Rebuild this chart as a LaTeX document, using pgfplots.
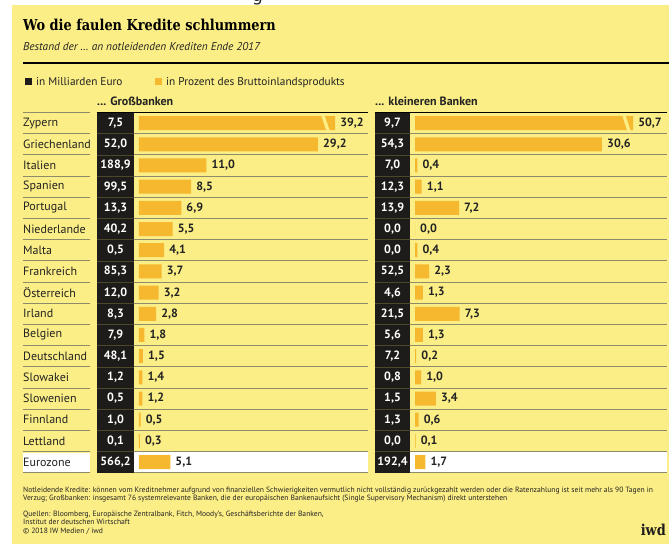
\documentclass[border=0pt]{standalone}
\usepackage{pgfplots}
\pgfplotsset{compat=1.18}
\usepackage{pgfplotstable}
\usepackage{fontspec}
\setmainfont{PT Sans}
\newfontfamily\titlefont[FakeStretch=0.86]{DejaVu Serif}
\newfontfamily\headfont{DejaVu Sans}
\definecolor{bg}{HTML}{FBEE86}
\definecolor{barc}{HTML}{F6B82F}
\definecolor{boxc}{HTML}{1E1C1A}
\definecolor{sep}{HTML}{8E8B6A}
\definecolor{txt}{HTML}{222222}

% row, name, Mrd Euro, % BIP, drawn length of the bar
\pgfplotstableread[col sep=comma]{
row,name,bn,pct,len
0,Zypern,7.5,39.2,32.0
1,Griechenland,52.0,29.2,29.2
2,Italien,188.9,11.0,11.0
3,Spanien,99.5,8.5,8.5
4,Portugal,13.3,6.9,6.9
5,Niederlande,40.2,5.5,5.5
6,Malta,0.5,4.1,4.1
7,Frankreich,85.3,3.7,3.7
8,Österreich,12.0,3.2,3.2
9,Irland,8.3,2.8,2.8
10,Belgien,7.9,1.8,0.87
11,Deutschland,48.1,1.5,0.65
12,Slowakei,1.2,1.4,0.55
13,Slowenien,0.5,1.2,0.55
14,Finnland,1.0,0.5,0.27
15,Lettland,0.1,0.3,0.16
16,Eurozone,566.2,5.1,5.1
}\gross

\pgfplotstableread[col sep=comma]{
row,name,bn,pct,len
0,Zypern,9.7,50.7,35.7
1,Griechenland,54.3,30.6,30.6
2,Italien,7.0,0.4,0.4
3,Spanien,12.3,1.1,1.1
4,Portugal,13.9,7.2,7.2
5,Niederlande,0.0,0.0,0.0
6,Malta,0.0,0.4,0.4
7,Frankreich,52.5,2.3,2.3
8,Österreich,4.6,1.3,1.3
9,Irland,21.5,7.3,7.3
10,Belgien,5.6,1.3,1.3
11,Deutschland,7.2,0.2,0.2
12,Slowakei,0.8,1.0,1.0
13,Slowenien,1.5,3.4,3.4
14,Finnland,1.3,0.6,0.6
15,Lettland,0.0,0.1,0.1
16,Eurozone,192.4,1.7,1.7
}\klein

\pgfplotsset{
  panel/.style={
    scale only axis, height=360.2pt, anchor=north west,
    ymin=-0.5, ymax=16.5, y dir=reverse,
    axis line style={draw=none}, tick style={draw=none},
    xtick=\empty, clip=false,
  },
  numfmt/.style={nodes near coords={\pgfmathprintnumber[fixed,fixed zerofill,precision=1,use comma,assume math mode=true]{\pgfplotspointmeta}}},
}

\begin{document}
\begin{tikzpicture}[x=1pt,y=1pt]
\useasboundingbox (0,0) rectangle (669,-544);
\fill[white] (0,0) rectangle (669,-544);
\fill[bg] (12,-5) rectangle (669,-544);
% cut-off letter of the page heading above the graphic
\begin{scope}
\clip (0,0) rectangle (669,-12);
\node[anchor=base west, inner sep=0, text=black!85] at (252,-1.5) {\headfont\fontsize{17}{20}\selectfont g};
\end{scope}

\node[anchor=base west, inner sep=0, text=black] at (23,-30) {\titlefont\bfseries\fontsize{15}{18}\selectfont Wo die faulen Kredite schlummern};
\node[anchor=base west, inner sep=0, text=txt] at (23,-50) {\itshape\fontsize{11.3}{13}\selectfont Bestand der … an notleidenden Krediten Ende 2017};
\draw[black, line width=1.8pt] (23,-63) -- (669,-63);

\fill[boxc] (25,-77.5) rectangle (32,-84.5);
\node[anchor=base west, inner sep=0, text=txt] at (36,-85) {\fontsize{11.3}{13}\selectfont in Milliarden Euro};
\fill[barc] (155,-77.5) rectangle (162,-84.5);
\node[anchor=base west, inner sep=0, text=txt] at (166,-85) {\fontsize{11.3}{13}\selectfont in Prozent des Bruttoinlandsprodukts};

\node[anchor=base west, inner sep=0, text=txt] at (97,-105) {\bfseries\fontsize{12}{14}\selectfont ... Großbanken};
\node[anchor=base west, inner sep=0, text=txt] at (375,-105) {\bfseries\fontsize{12}{14}\selectfont ... kleineren Banken};

% white band behind "Eurozone"
\fill[white] (23,-452.6) rectangle (90,-473.4);

% ---------- left panel
\begin{axis}[panel, at={(97pt,-112.5pt)}, width=271pt,
  xmin=-6.85, xmax=37.36,
  ytick={0,...,16}, yticklabels from table={\gross}{name},
  yticklabel style={anchor=west, inner sep=0pt, xshift=-74pt, text=txt, font=\fontsize{12}{14}\selectfont},
]
\fill[white] (axis cs:-0.82,15.5) rectangle (axis cs:37.36,16.5);
\pgfplotsinvokeforeach{0.5,1.5,...,16.5}{
  \draw[sep, line width=0.8pt] (axis cs:-0.82,#1) -- (axis cs:37.36,#1);
}
\pgfplotsinvokeforeach{-0.5,0.5,...,16.5}{
  \draw[sep, line width=0.8pt] ([xshift=-74pt]axis cs:-6.85,#1) -- ([xshift=-7pt]axis cs:-6.85,#1);
}
\fill[boxc] (axis cs:-6.85,-0.5) rectangle (axis cs:-0.82,16.5);
\pgfplotsinvokeforeach{0.5,1.5,...,15.5}{
  \draw[black!70!bg, line width=0.4pt] (axis cs:-6.85,#1) -- (axis cs:-0.82,#1);
}
\draw[black, line width=1.5pt] (axis cs:-6.85,-0.5) -- (axis cs:37.36,-0.5);
\addplot[xbar, bar width=14pt, fill=barc, draw=none, point meta=\thisrow{pct}, numfmt,
  nodes near coords style={anchor=west, inner sep=0pt, xshift=5pt, text=txt, font=\bfseries\fontsize{12}{14}\selectfont}]
  table[x=len, y=row]{\gross};
\addplot[draw=none, mark=none, point meta=\thisrow{bn}, numfmt,
  nodes near coords style={anchor=center, inner sep=0pt, text=white, font=\bfseries\fontsize{12}{14}\selectfont}]
  table[x expr=-3.83, y=row]{\gross};
\fill[bg] (axis cs:29.6,-0.47) -- (axis cs:30.15,-0.47) -- (axis cs:31.25,0.47) -- (axis cs:30.7,0.47) -- cycle;
\end{axis}

% ---------- right panel
\begin{axis}[panel, at={(375pt,-112.5pt)}, width=292pt,
  xmin=-6.55, xmax=41.24, ytick=\empty,
]
\fill[white] (axis cs:-0.82,15.5) rectangle (axis cs:41.24,16.5);
\pgfplotsinvokeforeach{0.5,1.5,...,16.5}{
  \draw[sep, line width=0.8pt] (axis cs:-0.82,#1) -- (axis cs:41.24,#1);
}
\fill[boxc] (axis cs:-6.55,-0.5) rectangle (axis cs:-0.82,16.5);
\pgfplotsinvokeforeach{0.5,1.5,...,15.5}{
  \draw[black!70!bg, line width=0.4pt] (axis cs:-6.55,#1) -- (axis cs:-0.82,#1);
}
\draw[black, line width=1.5pt] (axis cs:-6.55,-0.5) -- (axis cs:41.24,-0.5);
\addplot[xbar, bar width=14pt, fill=barc, draw=none, point meta=\thisrow{pct}, numfmt,
  nodes near coords style={anchor=west, inner sep=0pt, xshift=5pt, text=txt, font=\bfseries\fontsize{12}{14}\selectfont}]
  table[x=len, y=row]{\klein};
\addplot[draw=none, mark=none, point meta=\thisrow{bn}, numfmt,
  nodes near coords style={anchor=center, inner sep=0pt, text=white, font=\bfseries\fontsize{12}{14}\selectfont}]
  table[x expr=-3.68, y=row]{\klein};
\fill[bg] (axis cs:33.8,-0.47) -- (axis cs:34.35,-0.47) -- (axis cs:35.4,0.47) -- (axis cs:34.85,0.47) -- cycle;
\end{axis}

% ---------- footnotes
\begin{scope}[every node/.style={anchor=base west, inner sep=0, text=txt, font=\fontsize{7.6}{9}\selectfont}]
\node at (23,-492) {Notleidende Kredite: können vom Kreditnehmer aufgrund von finanziellen Schwierigkeiten vermutlich nicht vollständig zurückgezahlt werden oder die Ratenzahlung ist seit mehr als 90 Tagen in};
\node at (23,-500.5) {Verzug; Großbanken: insgesamt 76 systemrelevante Banken, die der europäischen Bankenaufsicht (Single Supervisory Mechanism) direkt unterstehen};
\node at (23,-516) {Quellen: Bloomberg, Europäische Zentralbank, Fitch, Moody's, Geschäftsberichte der Banken,};
\node at (23,-524.5) {Institut der deutschen Wirtschaft};
\node at (23,-533) {© 2018 IW Medien / iwd};
\end{scope}
\node[anchor=base east, inner sep=0, text=boxc] at (666,-535) {\titlefont\bfseries\fontsize{15}{18}\selectfont iwd};
\end{tikzpicture}
\end{document}
